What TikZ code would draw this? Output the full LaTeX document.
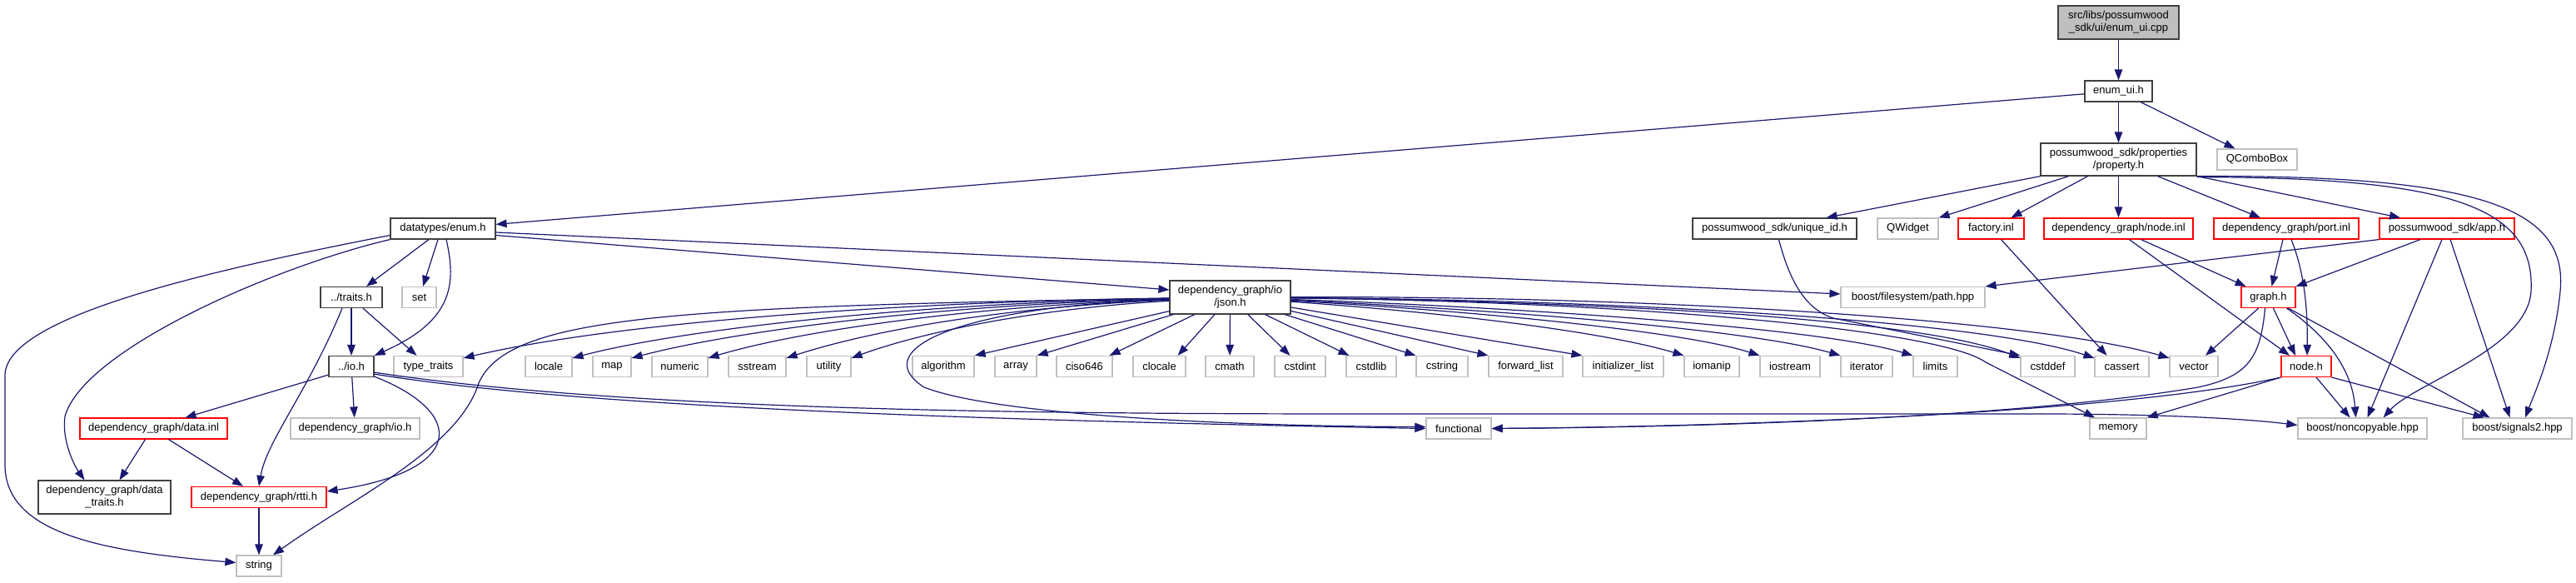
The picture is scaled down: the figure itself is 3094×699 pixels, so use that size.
\documentclass[tikz,border=0pt]{standalone}
\usepackage{fontspec}
\setmainfont{Liberation Sans}
\usetikzlibrary{arrows.meta}
\definecolor{edgeblue}{HTML}{191970}
\definecolor{extgray}{HTML}{BFBFBF}
\definecolor{docgray}{HTML}{404040}
\newcommand\dxfont{\fontsize{13pt}{15pt}\selectfont}
\begin{document}
\begin{tikzpicture}[x=1pt,y=-1pt,
  nbox/.style={draw, rectangle, inner sep=0pt, minimum height=25pt, align=center, font=\dxfont, line width=1.2pt},
  doc/.style={nbox, draw=docgray},
  ext/.style={nbox, draw=extgray},
  trunc/.style={nbox, draw=red},
  rootbox/.style={nbox, draw=docgray, fill=extgray},
  lnk/.style={draw=edgeblue, line width=1.2pt, -{Triangle[length=13pt,width=9.5pt]}}]
\useasboundingbox (0,0) rectangle (3094,699);
% ---- nodes
\node[rootbox, minimum width=145pt, minimum height=40pt] (root) at (2544.5,27) {src/libs/possumwood\\\_sdk/ui/enum\_ui.cpp};
\node[doc, minimum width=81pt] (enumui) at (2544.5,109.5) {enum\_ui.h};
\node[doc, minimum width=187pt, minimum height=39pt] (prop) at (2544.5,191.5) {possumwood\_sdk/properties\\/property.h};
\node[ext, minimum width=96pt] (qcombo) at (2711,191.5) {QComboBox};
\node[doc, minimum width=197pt] (uid) at (2131.5,274.5) {possumwood\_sdk/unique\_id.h};
\node[ext, minimum width=73pt] (qwidget) at (2291.5,274.5) {QWidget};
\node[trunc, minimum width=79pt] (factory) at (2391.5,274.5) {factory.inl};
\node[trunc, minimum width=179pt] (nodeinl) at (2544.5,274.5) {dependency\_graph/node.inl};
\node[trunc, minimum width=174pt] (portinl) at (2746,274.5) {dependency\_graph/port.inl};
\node[trunc, minimum width=162pt] (apph) at (2939,274.5) {possumwood\_sdk/app.h};
\node[doc, minimum width=126pt] (denum) at (532,274.5) {datatypes/enum.h};
\node[doc, minimum width=74pt] (traits) at (422,357) {../traits.h};
\node[ext, minimum width=41pt] (set) at (503.5,357) {set};
\node[doc, minimum width=145pt, minimum height=40pt] (json) at (1477.5,357) {dependency\_graph/io\\/json.h};
\node[ext, minimum width=173pt] (path) at (2297.5,357) {boost/filesystem/path.hpp};
\node[trunc, minimum width=65pt] (graph) at (2724.5,357) {graph.h};
\node[doc, minimum width=54pt] (io) at (422,440) {../io.h};
\node[ext, minimum width=83pt] (typetraits) at (514.5,440) {type\_traits};
\node[ext, minimum width=56pt] (locale) at (659,440) {locale};
\node[ext, minimum width=46pt] (map) at (735,440) {map};
\node[ext, minimum width=67pt] (numeric) at (816.5,440) {numeric};
\node[ext, minimum width=69pt] (sstream) at (909.5,440) {sstream};
\node[ext, minimum width=53pt] (utility) at (995.5,440) {utility};
\node[ext, minimum width=74pt] (algorithm) at (1133,440) {algorithm};
\node[ext, minimum width=50pt] (array) at (1220,440) {array};
\node[ext, minimum width=67pt] (ciso) at (1302.5,440) {ciso646};
\node[ext, minimum width=63pt] (clocale) at (1392.5,440) {clocale};
\node[ext, minimum width=58pt] (cmath) at (1477,440) {cmath};
\node[ext, minimum width=61pt] (cstdint) at (1561.5,440) {cstdint};
\node[ext, minimum width=60pt] (cstdlib) at (1647,440) {cstdlib};
\node[ext, minimum width=62pt] (cstring) at (1732,440) {cstring};
\node[ext, minimum width=89pt] (fwdlist) at (1832.5,440) {forward\_list};
\node[ext, minimum width=97pt] (initlist) at (1949.5,440) {initializer\_list};
\node[ext, minimum width=66pt] (iomanip) at (2056,440) {iomanip};
\node[ext, minimum width=72pt] (iostream) at (2150,440) {iostream};
\node[ext, minimum width=62pt] (iterator) at (2242,440) {iterator};
\node[ext, minimum width=53pt] (limits) at (2324.5,440) {limits};
\node[ext, minimum width=65pt] (cstddef) at (2459.5,440) {cstddef};
\node[ext, minimum width=65pt] (cassert) at (2548.5,440) {cassert};
\node[ext, minimum width=58pt] (vector) at (2635,440) {vector};
\node[trunc, minimum width=60pt] (nodeh) at (2770,440) {node.h};
\node[trunc, minimum width=177pt] (datainl) at (184.5,514.5) {dependency\_graph/data.inl};
\node[ext, minimum width=155pt] (dgio) at (426.5,514.5) {dependency\_graph/io.h};
\node[ext, minimum width=78pt] (functional) at (1752,514.5) {functional};
\node[ext, minimum width=68pt] (memory) at (2544,514.5) {memory};
\node[ext, minimum width=155pt] (noncopy) at (2837.5,514.5) {boost/noncopyable.hpp};
\node[ext, minimum width=131pt] (signals) at (3023.5,514.5) {boost/signals2.hpp};
\node[doc, minimum width=159pt, minimum height=40pt] (datatraits) at (125.5,597) {dependency\_graph/data\\\_traits.h};
\node[trunc, minimum width=162pt] (rtti) at (311,597) {dependency\_graph/rtti.h};
\node[ext, minimum width=54pt] (string) at (311,679.5) {string};
% ---- edges: top part
\draw[lnk] (root) -- (enumui);
\draw[lnk] (enumui) -- (denum);
\draw[lnk] (enumui) -- (prop);
\draw[lnk] (enumui) -- (qcombo);
\draw[lnk] (prop.south west) -- ([xshift=62pt]uid.north);
\draw[lnk] ([xshift=-60pt]prop.south) -- (qwidget.north east);
\draw[lnk] ([xshift=-37pt]prop.south) -- ([xshift=24pt]factory.north);
\draw[lnk] (prop) -- (nodeinl);
\draw[lnk] ([xshift=47pt]prop.south) -- ([xshift=-31pt]portinl.north);
\draw[lnk] (prop.south east) -- ([xshift=-56pt]apph.north);
\draw[lnk] ([yshift=-1pt]prop.south east) .. controls (2950,213) and (3045,250) .. (3040,350) .. controls (3035,420) and (2900,460) .. ([xshift=25pt]noncopy.north);
\draw[lnk] (prop.south east) .. controls (2980,210) and (3085,250) .. (3075,350) .. controls (3068,420) and (3045,470) .. ([xshift=9.5pt]signals.north);
\draw[lnk] ([xshift=5pt]uid.south) .. controls (2150,340) and (2170,372) .. (2202,382) -- (cstddef.north west);
\draw[lnk] ([xshift=12pt]factory.south) -- ([xshift=-18pt]cassert.north);
\draw[lnk] ([xshift=27pt]nodeinl.south) -- ([xshift=-27pt]graph.north);
\draw[lnk] ([xshift=13pt]nodeinl.south) -- ([xshift=-20pt]nodeh.north);
\draw[lnk] ([xshift=-4pt]portinl.south) -- ([xshift=4pt]graph.north);
\draw[lnk] ([xshift=6pt]portinl.south) .. controls (2765,320) and (2772,360) .. ([xshift=1pt]nodeh.north);
\draw[lnk] (apph.south west) -- (path.north east);
\draw[lnk] ([xshift=-32pt]apph.south) -- (graph.north east);
\draw[lnk] ([xshift=-6pt]apph.south) -- ([xshift=6pt]noncopy.north);
\draw[lnk] ([xshift=4pt]apph.south) -- ([xshift=-9pt]signals.north);
\draw[lnk] ([xshift=-12pt]graph.south) -- ([xshift=14pt]vector.north);
\draw[lnk] ([xshift=6pt]graph.south) -- ([xshift=-13pt]nodeh.north);
\draw[lnk] ([xshift=22pt]graph.south) .. controls (2790,400) and (2825,440) .. ([xshift=-8pt]noncopy.north);
\draw[lnk] ([xshift=24pt]graph.south) -- ([xshift=-33pt]signals.north);
\draw[lnk] ([xshift=-4pt]graph.south) .. controls (2715,430) and (2700,452) .. (2640,465) .. controls (2400,505) and (2000,513) .. (functional.east);
\draw[lnk] (nodeh.south west) .. controls (2550,495) and (2100,512) .. (functional.east);
\draw[lnk] (nodeh.south west) -- (memory.north east);
\draw[lnk] ([xshift=12pt]nodeh.south) -- ([xshift=-15pt]noncopy.north);
\draw[lnk] (nodeh.south east) -- ([xshift=-40pt]signals.north);
% ---- datatypes/enum.h
\draw[lnk] ([yshift=-4.5pt]denum.east) -- ([yshift=4pt]path.west);
\draw[lnk] ([yshift=-8pt]denum.east) -- ([yshift=9pt]json.west);
\draw[lnk] ([xshift=-17pt]denum.south) -- ([xshift=18pt]traits.north);
\draw[lnk] ([xshift=-6pt]denum.south) -- ([xshift=4.5pt]set.north);
\draw[lnk] ([xshift=4pt]denum.south) .. controls (548,340) and (545,385) .. (io.north east);
\draw[lnk] (denum.south west) .. controls (330,320) and (100,420) .. (78,500) .. controls (74,530) and (90,560) .. ([xshift=-24pt]datatraits.north);
\draw[lnk] ([yshift=-8pt]denum.west) .. controls (250,325) and (8,380) .. (6,450) -- (6,560) .. controls (8,640) and (120,662) .. ([yshift=4pt]string.west);
% ---- traits, io, data, rtti
\draw[lnk] (traits) -- (io);
\draw[lnk] ([xshift=14pt]traits.south) -- ([xshift=-14pt]typetraits.north);
\draw[lnk] ([xshift=-11pt]traits.south) .. controls (370,470) and (320,530) .. (rtti.north);
\draw[lnk] ([yshift=3pt]io.south west) -- ([xshift=38pt]datainl.north);
\draw[lnk] (io) -- (dgio);
\draw[lnk] ([yshift=1pt]io.south east) .. controls (560,495) and (560,565) .. ([yshift=7pt]rtti.east);
\draw[lnk] ([yshift=4pt]io.south east) .. controls (700,490) and (1200,505) .. (functional.west);
\draw[lnk] ([yshift=6pt]io.south east) .. controls (800,500) and (1400,497) .. (1800,497) -- (2450,497) .. controls (2600,497) and (2700,503) .. ([yshift=4pt]noncopy.west);
\draw[lnk] ([xshift=-10pt]datainl.south) -- ([xshift=18pt]datatraits.north);
\draw[lnk] ([xshift=18pt]datainl.south) -- ([xshift=-19pt]rtti.north);
\draw[lnk] (rtti) -- (string);
% ---- json.h
\draw[lnk] (json) .. controls (1100,362) and (750,385) .. ([yshift=-3pt]typetraits.north east);
\draw[lnk] (json) .. controls (1100,364) and (820,395) .. ([yshift=-3pt]locale.north east);
\draw[lnk] (json) .. controls (1120,366) and (880,398) .. ([yshift=-3pt]map.north east);
\draw[lnk] (json) .. controls (1150,368) and (950,400) .. ([yshift=-3pt]numeric.north east);
\draw[lnk] (json) .. controls (1180,370) and (1030,402) .. ([yshift=-3pt]sstream.north east);
\draw[lnk] (json) .. controls (1220,372) and (1090,405) .. ([yshift=-3pt]utility.north east);
\draw[lnk] (json) -- (algorithm.north east);
\draw[lnk] (json) -- (array.north east);
\draw[lnk] (json) -- ([xshift=-4pt]ciso.north east);
\draw[lnk] (json) -- ([xshift=-10pt]clocale.north east);
\draw[lnk] (json) -- (cmath);
\draw[lnk] (json) -- ([xshift=-12pt]cstdint.north);
\draw[lnk] (json) -- ([xshift=4pt]cstdlib.north west);
\draw[lnk] (json) -- (cstring.north west);
\draw[lnk] (json) -- (fwdlist.north west);
\draw[lnk] (json) -- (initlist.north west);
\draw[lnk] (json) .. controls (1800,380) and (1950,405) .. (iomanip.north west);
\draw[lnk] (json) .. controls (1800,375) and (2030,400) .. (iostream.north west);
\draw[lnk] (json) .. controls (1800,372) and (2100,395) .. (iterator.north west);
\draw[lnk] (json) .. controls (1800,368) and (2180,392) .. (limits.north west);
\draw[lnk] (json) .. controls (1900,362) and (2300,380) .. ([yshift=-3pt]cstddef.north west);
\draw[lnk] (json) .. controls (1950,360) and (2380,385) .. ([yshift=-3pt]cassert.north west);
\draw[lnk] (json) .. controls (2000,355) and (2450,385) .. ([yshift=-3pt]vector.north west);
\draw[lnk] (json) .. controls (1950,362) and (2330,395) .. (2385,435) -- ([xshift=-28pt]memory.north);
\draw[lnk] (json) .. controls (1150,368) and (1040,420) .. (1110,465) .. controls (1200,500) and (1500,512) .. ([yshift=2pt]functional.west);
\draw[lnk] (json) .. controls (800,368) and (610,380) .. (575,460) .. controls (550,540) and (420,600) .. ([xshift=17pt]string.north);
\end{tikzpicture}
\end{document}
